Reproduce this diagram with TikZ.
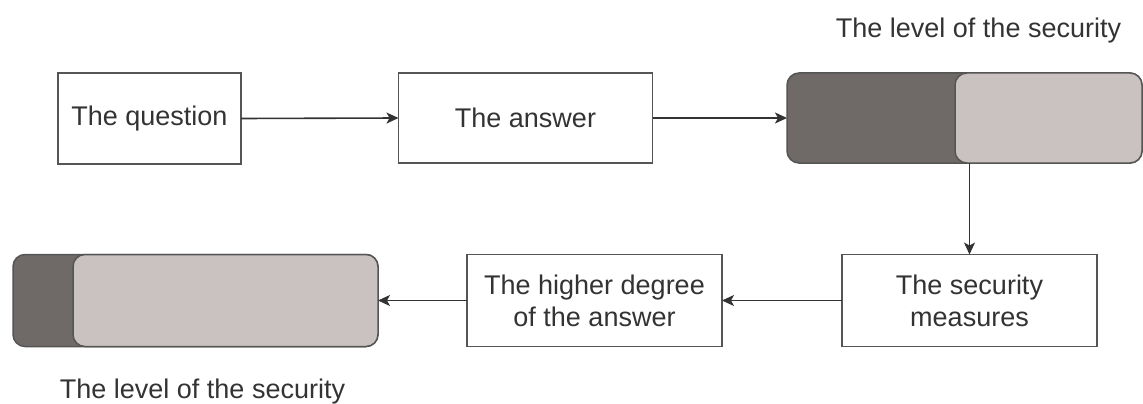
\documentclass[tikz,border=0pt]{standalone}
\usepackage{fontspec}
\setmainfont{Liberation Sans}
\usetikzlibrary{arrows.meta}
\definecolor{txt}{HTML}{333333}
\definecolor{edge}{HTML}{555555}
\definecolor{darkbar}{HTML}{6F6A67}
\definecolor{lightbar}{HTML}{CAC2C0}
\tikzset{
  box/.style={draw=edge, line width=1.8pt, fill=white, inner sep=0pt, outer sep=0pt,
    align=center, text=txt, font=\fontsize{27}{32}\selectfont},
  barpart/.style={draw=edge, line width=1.5pt, rounded corners=12pt, inner sep=0pt, outer sep=0pt},
  conn/.style={draw=txt, line width=1.6pt, -{Stealth[length=12pt,width=11pt,inset=3pt]}},
  lbl/.style={text=txt, font=\fontsize{27}{32}\selectfont, inner sep=0pt, anchor=base}
}
\begin{document}
\begin{tikzpicture}[x=1pt,y=-1pt]
\useasboundingbox (0,0) rectangle (1143,404);
% top row
\node[box, minimum width=183pt, minimum height=91pt] (q) at (149.5,118.5) {The question};
\node[box, minimum width=254pt, minimum height=90pt] (a) at (525.5,118) {The answer};
% top bar
\node[barpart, fill=darkbar, minimum width=355pt, minimum height=90pt] (tbar) at (964.5,118) {};
\node[barpart, fill=lightbar, minimum width=187pt, minimum height=90pt] (tlight) at (1048.5,118) {};
\node[lbl] (tlbl) at (978.5,38) {The level of the security};
% bottom row
\node[box, minimum width=255pt, minimum height=92pt] (sec) at (969.5,300.5) {The security\\measures};
\node[box, minimum width=255pt, minimum height=92pt] (hd) at (594.5,300.5) {The higher degree\\of the answer};
% bottom bar
\node[barpart, fill=darkbar, minimum width=365pt, minimum height=92pt] (bbar) at (195.5,300.5) {};
\node[barpart, fill=lightbar, minimum width=305pt, minimum height=92pt] (blight) at (225.5,300.5) {};
\node[lbl] (blbl) at (202.5,398) {The level of the security};
% connectors
\draw[conn] (q.east) -- (a.west);
\draw[conn] (a.east) -- (tbar.west);
\draw[conn] (sec.north |- tlight.south) -- (sec.north);
\draw[conn] (sec.west) -- (hd.east);
\draw[conn] (hd.west) -- (blight.east);
\end{tikzpicture}
\end{document}
